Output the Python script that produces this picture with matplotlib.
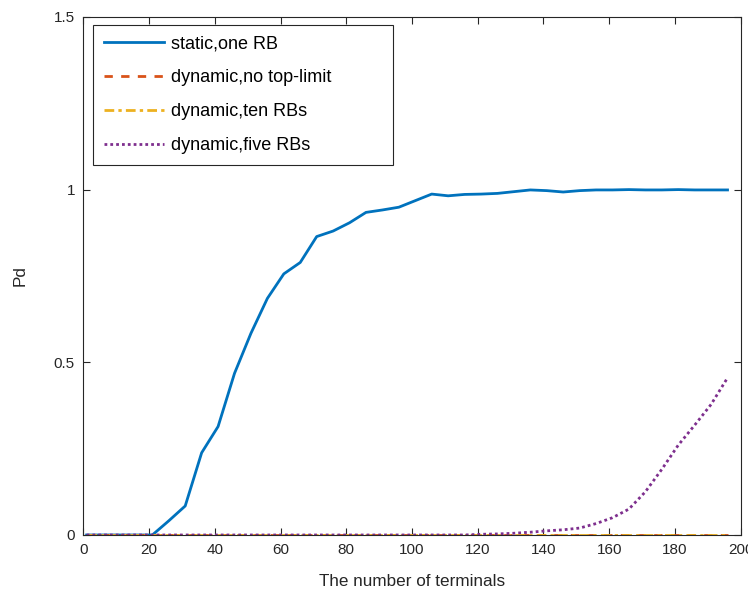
import numpy as np
import matplotlib.pyplot as plt

plt.rcParams['font.family'] = ['Liberation Sans', 'DejaVu Sans']

# number of terminals
n = np.arange(1, 200, 5)

# static, one RB
pd_static = [0, 0, 0, 0, 0, 0.041, 0.084, 0.238, 0.314, 0.468,
             0.584, 0.685, 0.756, 0.789, 0.864, 0.880, 0.904, 0.934, 0.941, 0.949,
             0.968, 0.987, 0.982, 0.986, 0.987, 0.989, 0.994, 0.999, 0.997, 0.993,
             0.997, 0.999, 0.999, 1.0, 0.999, 0.999, 1.0, 0.999, 0.999, 0.999]
# dynamic, no top-limit
pd_nolimit = [0.0] * 40
# dynamic, ten RBs
pd_ten = [0.0] * 40
# dynamic, five RBs
pd_five = [0, 0, 0, 0, 0, 0, 0, 0, 0, 0,
           0, 0, 0, 0, 0, 0, 0, 0, 0, 0,
           0, 0, 0, 0, 0.002, 0.003, 0.005, 0.008, 0.012, 0.015,
           0.02, 0.033, 0.05, 0.075, 0.125, 0.19, 0.26, 0.318, 0.378, 0.455]

labels = ['static,one RB', 'dynamic,no top-limit', 'dynamic,ten RBs', 'dynamic,five RBs']
colors = ['#0072BD', '#D95319', '#EDB120', '#7E2F8E']

fig = plt.figure(figsize=(7.48, 5.91), dpi=100)
ax = fig.add_axes([0.1114, 0.0948, 0.8788, 0.8766])

ax.plot(n, pd_static, color=colors[0], lw=2, label=labels[0])
ax.plot(n, pd_nolimit, color=colors[1], lw=2, dashes=(3, 3), label=labels[1])
ax.plot(n, pd_ten, color=colors[2], lw=2, dashes=(3.5, 1.5, 1.2, 1.5), label=labels[2])
ax.plot(n, pd_five, color=colors[3], lw=2, dashes=(1, 1.1), label=labels[3])

ax.set_xlim(0, 200)
ax.set_ylim(0, 1.5)
ax.set_xticks(np.arange(0, 201, 20))
ax.set_yticks([0, 0.5, 1, 1.5])
ax.set_yticklabels(['0', '0.5', '1', '1.5'])
ax.set_xlabel('The number of terminals', fontsize=12.3, color='#262626', labelpad=12)
ax.set_ylabel('Pd', fontsize=12.3, color='#262626', labelpad=19)

for s in ax.spines.values():
    s.set_color('#262626')
    s.set_linewidth(0.8)
ax.tick_params(direction='in', top=True, right=True, length=5, width=0.8,
               color='#262626', labelcolor='#262626', labelsize=11, pad=6)

leg = ax.legend(loc='upper left', bbox_to_anchor=(0.0143, 0.3, 0.457, 0.685),
                mode='expand', fontsize=13, handlelength=3.33, handletextpad=0.39,
                labelspacing=0.93, borderaxespad=0, borderpad=0.6, fancybox=False,
                framealpha=1, edgecolor='#262626')
leg.get_frame().set_linewidth(0.8)

fig.savefig('out.png', dpi=100)
